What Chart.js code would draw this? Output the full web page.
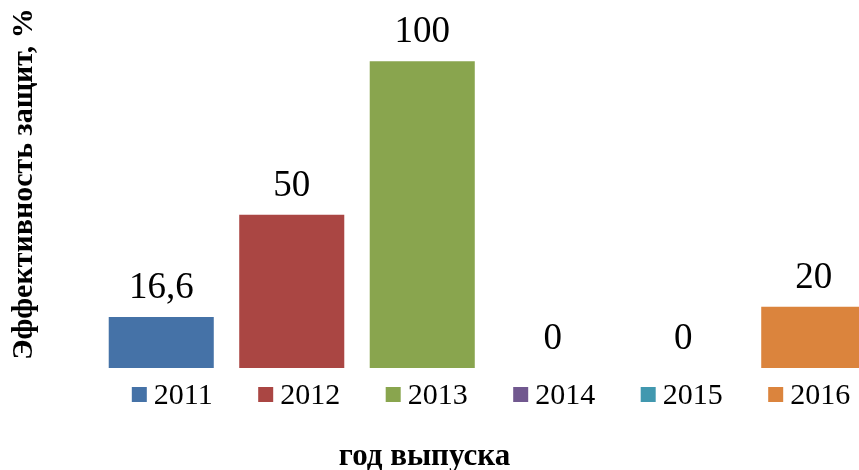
<!DOCTYPE html>
<html>
<head>
<meta charset="utf-8">
<script src="https://cdn.jsdelivr.net/npm/chart.js@4"></script>
<style>
html, body { margin: 0; padding: 0; background: #ffffff; overflow: hidden; width: 859px; height: 470px; }
#wrap { width: 879px; height: 470px; position: relative; }
</style>
</head>
<body>
<div id="wrap"><canvas id="c"></canvas></div>
<script>
const categories = ['2011', '2012', '2013', '2014', '2015', '2016'];
const values = [16.6, 50, 100, 0, 0, 20];
const colors = ['#4572A7', '#AA4643', '#89A54E', '#71588F', '#4198AF', '#DB843D'];
const yTitle = 'Эффективность защит, %';
const xTitle = 'год выпуска';

const SERIF = '"Liberation Serif", "Times New Roman", serif';
const VISIBLE_WIDTH = 859;

function fmt(v) { return String(v).replace('.', ','); }

const valueLabels = {
  id: 'valueLabels',
  afterDatasetsDraw(chart) {
    const ctx = chart.ctx;
    const meta = chart.getDatasetMeta(0);
    ctx.save();
    ctx.font = '37px ' + SERIF;
    ctx.fillStyle = '#000000';
    ctx.textAlign = 'center';
    ctx.textBaseline = 'alphabetic';
    meta.data.forEach((bar, i) => {
      ctx.fillText(fmt(values[i]), bar.x, bar.y - 19);
    });
    ctx.restore();
  }
};

const bottomLegend = {
  id: 'bottomLegend',
  afterDraw(chart) {
    const ctx = chart.ctx;
    const area = chart.chartArea;
    ctx.save();
    ctx.font = '30px ' + SERIF;
    const box = 15, gap = 7, spacing = 45.5;
    const widths = categories.map(c => box + gap + ctx.measureText(c).width);
    const total = widths.reduce((a, b) => a + b, 0) + spacing * (categories.length - 1);
    let x = (area.left + area.right) / 2 + 3.5 - total / 2;
    const base = area.bottom + 36;
    ctx.textBaseline = 'alphabetic';
    ctx.textAlign = 'left';
    categories.forEach((c, i) => {
      ctx.fillStyle = colors[i];
      ctx.fillRect(x, base - 17, box, box);
      ctx.fillStyle = '#000000';
      ctx.fillText(c, x + box + gap, base);
      x += widths[i] + spacing;
    });
    // x axis title
    ctx.font = 'bold 31px ' + SERIF;
    ctx.textAlign = 'center';
    ctx.fillText(xTitle, VISIBLE_WIDTH / 2 - 5, 465);
    ctx.restore();
  }
};

new Chart(document.getElementById('c'), {
  type: 'bar',
  data: {
    labels: categories,
    datasets: [{
      data: values,
      backgroundColor: colors,
      borderWidth: 0,
      barPercentage: 1,
      categoryPercentage: 0.805
    }]
  },
  options: {
    responsive: true,
    maintainAspectRatio: false,
    animation: false,
    layout: { padding: { left: 0, right: 0, top: 0, bottom: 102 } },
    plugins: {
      legend: { display: false },
      tooltip: { enabled: false },
      title: { display: false }
    },
    scales: {
      x: { display: false },
      y: {
        min: 0,
        max: 120,
        ticks: { display: false },
        grid: { display: false },
        border: { display: false },
        title: {
          display: true,
          text: yTitle,
          color: '#000000',
          font: { family: SERIF, size: 30, weight: 'bold' },
          padding: { top: 6, bottom: 0 }
        },
        afterFit(scale) { scale.width = 96; }
      }
    }
  },
  plugins: [valueLabels, bottomLegend]
});
</script>
</body>
</html>
